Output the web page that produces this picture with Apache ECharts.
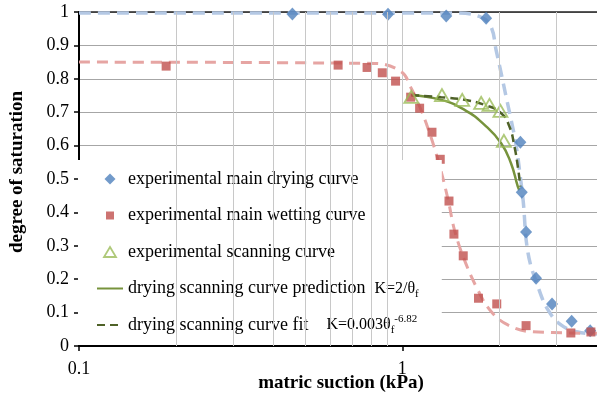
<!DOCTYPE html>
<html>
<head>
<meta charset="utf-8">
<script src="https://cdn.jsdelivr.net/npm/echarts@6/dist/echarts.min.js"></script>
<style>
  html, body { margin: 0; padding: 0; background: #fff; }
  #chart { width: 597px; height: 408px; }
</style>
</head>
<body>
<div id="chart"></div>
<script>
// Matric suction (kPa) and degree of saturation, measured points
const dryingSuction = [0.457, 0.903, 1.367, 1.816, 2.318, 2.341, 2.414, 2.592, 2.904, 3.34, 3.81];
const dryingSat     = [0.994, 0.993, 0.988, 0.981, 0.610, 0.460, 0.341, 0.203, 0.126, 0.074, 0.046];

const wettingSuction = [0.186, 0.633, 0.778, 0.867, 0.953, 1.061, 1.131, 1.235, 1.310, 1.394, 1.444, 1.543, 1.720, 1.959, 2.414, 3.32, 3.83];
const wettingSat     = [0.838, 0.841, 0.834, 0.818, 0.793, 0.745, 0.712, 0.640, 0.559, 0.434, 0.335, 0.270, 0.143, 0.126, 0.061, 0.039, 0.042];

const scanningSuction = [1.066, 1.326, 1.532, 1.753, 1.860, 2.011, 2.061];
const scanningSat     = [0.746, 0.751, 0.737, 0.728, 0.722, 0.704, 0.614];

// Fitted main curves
const dryFitSuction = [0.1, 1.45, 1.75, 1.882, 1.95, 2.021, 2.094, 2.17, 2.248, 2.313, 2.363, 2.448, 2.629, 2.822, 3.095, 3.49, 4.0];
const dryFitSat     = [0.997, 0.997, 0.985, 0.955, 0.886, 0.817, 0.746, 0.677, 0.602, 0.512, 0.437, 0.278, 0.177, 0.108, 0.063, 0.042, 0.036];

const wetFitSuction = [0.1, 0.82, 0.993, 1.066, 1.131, 1.2, 1.289, 1.384, 1.45, 1.557, 1.712, 1.882, 2.12, 2.5, 4.0];
const wetFitSat     = [0.850, 0.846, 0.821, 0.771, 0.717, 0.652, 0.557, 0.440, 0.347, 0.257, 0.168, 0.103, 0.063, 0.043, 0.038];

// Drying scanning curve: prediction and fit
const predSuction = [1.066, 1.319, 1.557, 1.795, 2.021, 2.168, 2.276, 2.30];
const predSat     = [0.751, 0.737, 0.707, 0.662, 0.607, 0.547, 0.477, 0.467];

const fitSuction = [1.066, 1.319, 1.557, 1.795, 2.021, 2.144, 2.222, 2.276, 2.318];
const fitSat     = [0.751, 0.745, 0.737, 0.722, 0.697, 0.657, 0.597, 0.537, 0.477];

// Axis ticks and gridlines
const yTicks = [0, 0.1, 0.2, 0.3, 0.4, 0.5, 0.6, 0.7, 0.8, 0.9, 1];
const xLabels = ['0.1', '1'];
const xMinorGrid = [0.2, 0.3, 0.4, 0.5, 0.6, 0.7, 0.8, 0.9, 2, 3];

const names = {
  dry: 'experimental main drying curve',
  wet: 'experimental main wetting curve',
  scan: 'experimental scanning curve',
  pred: 'drying scanning curve prediction',
  fit: 'drying scanning curve fit'
};

// Legend markers: the leading moves pin each path's box to the 26x12 legend slot,
// so the marker keeps its own proportions inside it.
const ICON_BOX = 'M0 0 M26 12 ';
const legendIcons = {
  dry: 'path://' + ICON_BOX + 'M13 0.5 L18.5 6 L13 11.5 L7.5 6 Z',
  wet: 'path://' + ICON_BOX + 'M9 2 L17 2 L17 10 L9 10 Z',
  scan: 'path://' + ICON_BOX + 'M13 1 L19 11 L7 11 Z'
};

const zip = (xs, ys) => xs.map((x, i) => [x, ys[i]]);
const FONT = '"Liberation Serif", "Times New Roman", "DejaVu Serif", serif';

const chart = echarts.init(document.getElementById('chart'), null, { renderer: 'canvas' });

chart.setOption({
  animation: false,
  backgroundColor: '#fff',
  grid: { left: 77, right: 0, top: 12, bottom: 62 },
  xAxis: [{
    type: 'log',
    logBase: 10,
    min: 0.1,
    max: 4,
    name: 'matric suction (kPa)',
    nameLocation: 'middle',
    nameGap: 28,
    nameMoveOverlap: false,
    nameTextStyle: { fontFamily: FONT, fontWeight: 'bold', fontSize: 19, color: '#000', padding: [0, 0, 0, 6] },
    axisLine: { show: true, lineStyle: { color: '#000', width: 2 } },
    axisTick: { show: true, length: 5, lineStyle: { color: '#000', width: 1.5 },
      interval: (i, v) => xLabels.includes(String(+Number(v).toPrecision(6))) },
    axisLabel: {
      fontFamily: FONT, fontSize: 18, color: '#000', margin: 14,
      showMaxLabel: false,
      formatter: v => {
        const s = String(+Number(v).toPrecision(6));
        return xLabels.includes(s) ? s : '';
      }
    },
    splitLine: { show: true, lineStyle: { color: '#c8c8c8', width: 1 } }
  }, {
    type: 'log',
    logBase: 10,
    min: 0.1,
    max: 4,
    position: 'top',
    axisLine: { show: true, onZero: false, lineStyle: { color: '#222', width: 1.5 } },
    axisTick: { show: false },
    axisLabel: { show: false },
    splitLine: { show: false }
  }],
  yAxis: {
    type: 'value',
    min: 0,
    max: 1,
    interval: 0.1,
    name: 'degree of saturation',
    nameLocation: 'middle',
    nameGap: 52,
    nameTextStyle: { fontFamily: FONT, fontWeight: 'bold', fontSize: 19, color: '#000', padding: [0, 0, 0, 14] },
    axisLine: { show: true, lineStyle: { color: '#000', width: 2 } },
    axisTick: { show: true, length: 5, lineStyle: { color: '#000', width: 1.5 } },
    axisLabel: {
      fontFamily: FONT, fontSize: 18, color: '#000', margin: 10,
      formatter: v => {
        const t = yTicks.find(k => Math.abs(k - v) < 1e-6);
        return t === undefined ? '' : String(t);
      }
    },
    splitLine: { show: true, lineStyle: { color: '#a6a6a6', width: 1 } }
  },
  legend: {
    orient: 'vertical',
    left: 78,
    top: 160,
    padding: [8, 23, 9, 18],
    backgroundColor: '#fff',
    itemWidth: 26,
    itemHeight: 12,
    itemGap: 14.5,
    selectedMode: false,
    textStyle: {
      fontFamily: FONT, fontSize: 18, color: '#000', lineHeight: 22,
      rich: {
        t: { fontFamily: FONT, fontSize: 18, color: '#000', lineHeight: 22 },
        k: { fontFamily: FONT, fontSize: 16, color: '#000', lineHeight: 22 },
        sub: { fontFamily: FONT, fontSize: 11, color: '#000', lineHeight: 11, verticalAlign: 'bottom' },
        sup: { fontFamily: FONT, fontSize: 11, color: '#000', lineHeight: 11, verticalAlign: 'top' }
      }
    },
    formatter: name => {
      if (name === names.pred) return '{t|' + name + '}  {k|K=2/θ}{sub|f}';
      if (name === names.fit) return '{t|' + name + '}    {k|K=0.003θ}{sub|f}{sup|-6.82}';
      return '{t|' + name + '}';
    },
    data: [
      { name: names.dry, icon: legendIcons.dry, itemStyle: { color: '#4f81bd' } },
      { name: names.wet, icon: legendIcons.wet, itemStyle: { color: '#c0504d' } },
      { name: names.scan, icon: legendIcons.scan,
        itemStyle: { color: 'transparent', borderColor: '#9bbb59', borderWidth: 1.8 } },
      { name: names.pred, itemStyle: { opacity: 0 } },
      { name: names.fit, itemStyle: { opacity: 0 } }
    ]
  },
  series: [
    {
      // minor vertical gridlines of the log axis
      type: 'line',
      data: [],
      silent: true,
      z: 0,
      markLine: {
        silent: true,
        symbol: ['none', 'none'],
        label: { show: false },
        lineStyle: { color: '#c8c8c8', width: 1, type: 'solid' },
        data: xMinorGrid.map(v => ({ xAxis: v }))
      }
    },
    {
      name: 'main drying fit',
      type: 'line',
      data: zip(dryFitSuction, dryFitSat),
      symbol: 'none',
      smooth: 0.4,
      z: 1,
      lineStyle: { color: '#b4c8e4', width: 3.5, type: [12, 7] }
    },
    {
      name: 'main wetting fit',
      type: 'line',
      data: zip(wetFitSuction, wetFitSat),
      symbol: 'none',
      smooth: 0.4,
      z: 1,
      lineStyle: { color: '#e6a5a3', width: 3, type: [11, 7] }
    },
    {
      name: names.pred,
      type: 'line',
      data: zip(predSuction, predSat),
      symbol: 'none',
      smooth: 0.5,
      z: 2,
      color: '#77933c',
      lineStyle: { color: '#77933c', width: 2.5 }
    },
    {
      name: names.fit,
      type: 'line',
      data: zip(fitSuction, fitSat),
      symbol: 'none',
      smooth: 0.5,
      z: 2,
      color: '#4f6228',
      lineStyle: { color: '#4f6228', width: 2.5, type: [8, 5] }
    },
    {
      name: names.dry,
      type: 'scatter',
      data: zip(dryingSuction, dryingSat),
      symbol: 'diamond',
      symbolSize: [12, 13],
      z: 3,
      itemStyle: { color: '#4f81bd' }
    },
    {
      name: names.wet,
      type: 'scatter',
      data: zip(wettingSuction, wettingSat),
      symbol: 'rect',
      symbolSize: 9,
      z: 3,
      itemStyle: { color: '#c0504d' }
    },
    {
      name: names.scan,
      type: 'scatter',
      data: zip(scanningSuction, scanningSat),
      symbol: 'triangle',
      symbolSize: [14, 12],
      z: 4,
      itemStyle: { color: 'transparent', borderColor: '#9bbb59', borderWidth: 1.8 }
    }
  ]
});
</script>
</body>
</html>
